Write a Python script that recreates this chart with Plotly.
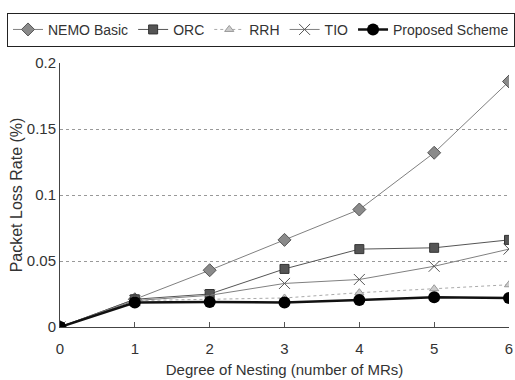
import plotly.graph_objects as go

x_vals = [0, 1, 2, 3, 4, 5, 6]
nemo = [0, 0.021, 0.043, 0.066, 0.089, 0.132, 0.186]
orc = [0, 0.021, 0.025, 0.044, 0.059, 0.060, 0.066]
rrh = [0, 0.020, 0.021, 0.022, 0.026, 0.029, 0.032]
tio = [0, 0.020, 0.024, 0.033, 0.036, 0.046, 0.059]
proposed = [0, 0.0185, 0.019, 0.0185, 0.0205, 0.0225, 0.022]

names = ["NEMO Basic", "ORC", "RRH", "TIO", "Proposed Scheme"]
y_ticks = [0, 0.05, 0.1, 0.15, 0.2]
y_tick_text = ["0", "0.05", "0.1", "0.15", "0.2"]

FONT = "Liberation Sans, Arial, sans-serif"

fig = go.Figure()
fig.add_trace(go.Scatter(x=x_vals, y=nemo, name=names[0], mode="lines+markers",
                         line=dict(color="#808080", width=1),
                         marker=dict(symbol="diamond", size=10, color="#8a8a8a",
                                     line=dict(color="#555555", width=1))))
fig.add_trace(go.Scatter(x=x_vals, y=orc, name=names[1], mode="lines+markers",
                         line=dict(color="#555555", width=1),
                         marker=dict(symbol="square", size=9, color="#555555",
                                     line=dict(color="#333333", width=1))))
fig.add_trace(go.Scatter(x=x_vals, y=rrh, name=names[2], mode="lines+markers",
                         line=dict(color="#aaaaaa", width=1, dash="dot"),
                         marker=dict(symbol="triangle-up", size=8, color="#cccccc",
                                     line=dict(color="#999999", width=1))))
fig.add_trace(go.Scatter(x=x_vals, y=tio, name=names[3], mode="lines+markers",
                         line=dict(color="#808080", width=1),
                         marker=dict(symbol="x-thin", size=11, color="#555555",
                                     line=dict(color="#555555", width=1))))
fig.add_trace(go.Scatter(x=x_vals, y=proposed, name=names[4], mode="lines+markers",
                         line=dict(color="#111111", width=2.5),
                         marker=dict(symbol="circle", size=12, color="#000000")))

fig.update_layout(
    width=515, height=380,
    margin=dict(l=60, r=6, t=63, b=53),
    paper_bgcolor="white", plot_bgcolor="white",
    font=dict(family=FONT, size=15, color="#333333"),
    showlegend=True,
    legend=dict(orientation="h", x=-0.106, xref="paper", y=1.19, yref="paper",
                xanchor="left", yanchor="top",
                bordercolor="#222222", borderwidth=1, bgcolor="white",
                font=dict(size=14, color="#333333"), itemwidth=30,
                tracegroupgap=0),
)
fig.update_xaxes(range=[0, 6], tickvals=x_vals, ticks="inside", ticklen=5,
                 tickcolor="#555555", showgrid=False, showline=True,
                 linecolor="#444444", linewidth=1, zeroline=False,
                 ticklabelstandoff=8,
                 title=dict(text="Degree of Nesting (number of MRs)", standoff=8,
                            font=dict(size=15)),
                 tickfont=dict(size=15), automargin=False)
fig.update_yaxes(range=[0, 0.2], tickvals=y_ticks, ticktext=y_tick_text,
                 showgrid=True, gridcolor="#999999", griddash="dot", gridwidth=1,
                 showline=True, linecolor="#444444", linewidth=1, zeroline=False,
                 ticks="", title=dict(text="Packet Loss Rate (%)", standoff=0,
                                      font=dict(size=16)),
                 tickfont=dict(size=15), automargin=False)

fig.write_html("out.html", config={"displayModeBar": False},
               post_script="document.body.style.margin='0';")
